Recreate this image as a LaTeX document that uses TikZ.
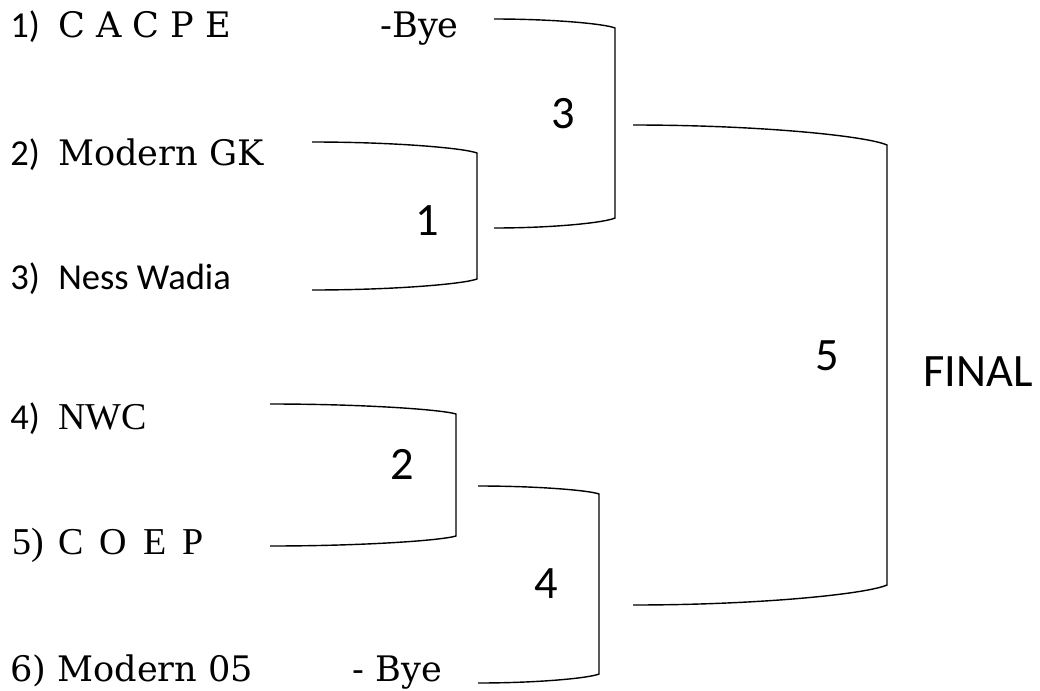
\documentclass[tikz,border=0pt]{standalone}
\usepackage{fontspec}
\newfontfamily\calfont{Carlito}
\newfontfamily\bookfont{DejaVu Serif}
\newfontfamily\timesfont{Liberation Serif}[WordSpace=1.7]
\tikzset{
  num/.style={font=\calfont\fontsize{26}{30}\selectfont,anchor=base west,inner sep=0pt},
  team/.style={font=\bookfont\fontsize{25}{29}\selectfont,anchor=base west,inner sep=0pt},
  teamtimes/.style={font=\timesfont\fontsize{27}{31}\selectfont,anchor=base west,inner sep=0pt},
  game/.style={font=\calfont\fontsize{33}{38}\selectfont,anchor=base,inner sep=0pt},
  bracket/.style={line width=1pt}
}
\begin{document}
\begin{tikzpicture}[x=0.025cm,y=-0.025cm]
        \useasboundingbox (0,0) rectangle (1040,691);
        % teams
        \node[num] (n1) at (10,37) {1)};
        \node[team] (t1) at (58,37) {C A C P E};
        \node[team] (bye1) at (380,37) {-Bye};
        \node[num] (n2) at (10,165) {2)};
        \node[team] (t2) at (58,165) {Modern GK};
        \node[num] (n3) at (10,289) {3)};
        \node[num] (t3) at (58,289) {Ness Wadia};
        \node[num] (n4) at (10,429) {4)};
        \node[teamtimes] (t4) at (58,429) {NWC};
        \node[teamtimes] (n5) at (12,554) {5)};
        \node[teamtimes] (t5) at (58,554) {C O E P};
        \node[team] (t6) at (10,681) {6) Modern 05};
        \node[team] (bye6) at (352,681) {- Bye};

        % games
        \node[game] (g1) at (427,235) {1};
        \node[game] (g2) at (402,479) {2};
        \node[game] (g3) at (563,128) {3};
        \node[game] (g4) at (546,598) {4};
        \node[game] (g5) at (827,370) {5};
        \node[game,anchor=base west] (final) at (923,386) {FINAL};

        % bracket ends and bends
        \foreach \br/\xs/\xc/\ya/\yb/\yc/\yd in {b1/312/477/142/153/279/290, b2/270/456/404/414/536/546,
                b3/494/615/19/28/218/228, b4/478/599/486/494/674/683, b5/633/887/125/145/585/605}{
            \coordinate (\br a) at (\xs,\ya);
            \coordinate (\br b) at (\xc,\yb);
            \coordinate (\br c) at (\xc,\yc);
            \coordinate (\br d) at (\xs,\yd);
            \coordinate (\br p) at ({\xs+0.5*(\xc-\xs)},\ya);
            \coordinate (\br q) at ({\xc-0.08*(\xc-\xs)},{\ya+0.55*(\yb-\ya)});
            \coordinate (\br r) at ({\xc-0.08*(\xc-\xs)},{\yd-0.55*(\yd-\yc)});
            \coordinate (\br s) at ({\xs+0.5*(\xc-\xs)},\yd);
        }
        \foreach \br in {b1,b2,b3,b4,b5}{
            \draw[bracket] (\br a) .. controls (\br p) and (\br q) .. (\br b)
                -- (\br c) .. controls (\br r) and (\br s) .. (\br d);
        }
    \end{tikzpicture}
\end{document}
